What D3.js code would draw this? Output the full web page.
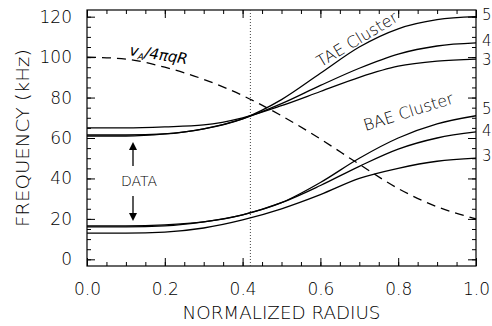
<!DOCTYPE html>
<html>
<head>
<script src="https://d3js.org/d3.v7.min.js"></script>
<style>
  body { margin: 0; background: #fff; }
  text { font-family: "DejaVu Sans", sans-serif; fill: #000; }
  .tick text { font-size: 17px; font-weight: 300; }
  .curve { fill: none; stroke: #000; stroke-width: 1.3px; }
</style>
</head>
<body>
<script>
// radius samples
var radius = [0, 0.1, 0.2, 0.3, 0.4, 0.5, 0.6, 0.7, 0.8, 0.9, 1.0];

// TAE cluster, n = 5, 4, 3
var tae5 = [61, 61, 62, 64.5, 69.5, 79, 92, 105, 114, 118.5, 120];
var tae4 = [61.5, 61.5, 62, 64.5, 69.5, 77, 86, 94.5, 101.5, 105.5, 107];
var tae3 = [65, 65, 65.5, 66.5, 70, 76, 83, 90, 95.5, 98, 99];

// BAE cluster, n = 5, 4, 3
var bae5 = [16.5, 16.5, 17, 18.5, 22, 28, 38, 50, 60, 67, 71];
var bae4 = [16, 16, 16.5, 18.5, 22, 28, 36.5, 46, 54.5, 60, 63];
var bae3 = [13, 13, 13.5, 15.5, 19.5, 25, 32, 40, 45, 48.5, 50];

// v_A / 4 pi q R
var alfven = [100, 99, 95, 89, 81, 71, 59.5, 47, 35, 26, 20];

var modeLabels = ["5", "4", "3"];
var xTicks = [0, 0.2, 0.4, 0.6, 0.8, 1.0];
var yTicks = [0, 20, 40, 60, 80, 100, 120];
var dataRadius = 0.42;

var width = 492, height = 326;
var plotL = 87, plotR = 476, plotT = 10, plotB = 266;

var svg = d3.select("body").append("svg")
    .attr("width", width)
    .attr("height", height);

var x = d3.scaleLinear().domain([0, 1]).range([plotL, plotR]);
var y = d3.scaleLinear().domain([-3.3, 123.3]).range([plotB, plotT]);

var xMinor = d3.range(0, 1.0001, 0.05);
var yMinor = d3.range(0, 121, 5);

// axes, ticks pointing inward
svg.append("g").attr("transform", "translate(0," + plotB + ")")
    .call(d3.axisBottom(x).tickValues(xMinor).tickSize(-4).tickFormat(""));
svg.append("g").attr("transform", "translate(0," + plotB + ")")
    .call(d3.axisBottom(x).tickValues(xTicks).tickSize(-8).tickPadding(17).tickFormat(d3.format(".1f")));
svg.append("g").attr("transform", "translate(0," + plotT + ")")
    .call(d3.axisTop(x).tickValues(xMinor).tickSize(-4).tickFormat(""));
svg.append("g").attr("transform", "translate(0," + plotT + ")")
    .call(d3.axisTop(x).tickValues(xTicks).tickSize(-8).tickFormat(""));

svg.append("g").attr("transform", "translate(" + plotL + ",0)")
    .call(d3.axisLeft(y).tickValues(yMinor).tickSize(-4).tickFormat(""));
svg.append("g").attr("transform", "translate(" + plotL + ",0)")
    .call(d3.axisLeft(y).tickValues(yTicks).tickSize(-8).tickPadding(15));
svg.append("g").attr("transform", "translate(" + plotR + ",0)")
    .call(d3.axisRight(y).tickValues(yMinor).tickSize(-4).tickFormat(""));
svg.append("g").attr("transform", "translate(" + plotR + ",0)")
    .call(d3.axisRight(y).tickValues(yTicks).tickSize(-8).tickFormat(""));

svg.selectAll(".domain").remove();
svg.selectAll(".tick line").attr("stroke", "#000");
svg.selectAll(".tick text").attr("fill", "#000");

svg.append("rect")
    .attr("x", plotL).attr("y", plotT)
    .attr("width", plotR - plotL).attr("height", plotB - plotT)
    .attr("fill", "none").attr("stroke", "#000").attr("stroke-width", 1.2);

// vertical dotted line at data radius
svg.append("line")
    .attr("x1", x(dataRadius)).attr("x2", x(dataRadius))
    .attr("y1", plotT).attr("y2", plotB)
    .attr("stroke", "#444").attr("stroke-width", 1)
    .attr("stroke-dasharray", "1,2");

var line = d3.line()
    .x(function(d, i) { return x(radius[i]); })
    .y(function(d) { return y(d); })
    .curve(d3.curveMonotoneX);

[tae5, tae4, tae3, bae5, bae4, bae3].forEach(function(s) {
  svg.append("path").attr("class", "curve").attr("d", line(s));
});

svg.append("path").attr("class", "curve")
    .attr("stroke-dasharray", "9,6")
    .attr("d", line(alfven));

// mode number labels at right, nudged apart so they do not collide
var nudge = [[-2, -2, 1], [-7, -1, -2]];
[[tae5, tae4, tae3], [bae5, bae4, bae3]].forEach(function(group, g) {
  group.forEach(function(s, i) {
    svg.append("text")
        .attr("x", 482)
        .attr("y", y(s[s.length - 1]) + nudge[g][i])
        .attr("dy", "0.35em")
        .style("font-size", "15px")
        .style("font-weight", 300)
        .text(modeLabels[i]);
  });
});

// annotations
var va = svg.append("text")
    .attr("transform", "translate(129,55) rotate(9)")
    .style("font-size", "15px")
    .style("font-style", "italic")
    .style("font-weight", 300);
va.append("tspan").text("v");
va.append("tspan").attr("dy", 3).style("font-size", "9px").text("A");
va.append("tspan").attr("dy", -3).text("/4\u03c0qR");

svg.append("text")
    .attr("transform", "translate(360,44) rotate(-31)")
    .attr("text-anchor", "middle")
    .style("font-size", "16px")
    .style("font-weight", 300)
    .text("TAE Cluster");

svg.append("text")
    .attr("transform", "translate(410,117) rotate(-17.5)")
    .attr("text-anchor", "middle")
    .style("font-size", "16px")
    .style("font-weight", 300)
    .text("BAE Cluster");

svg.append("text")
    .attr("x", 139).attr("y", 186)
    .attr("text-anchor", "middle")
    .style("font-size", "14px")
    .style("font-weight", 300)
    .text("DATA");

var ax = 133;
function arrow(ya, yb) {
  var dir = yb > ya ? 1 : -1;
  svg.append("line")
      .attr("x1", ax).attr("x2", ax)
      .attr("y1", ya).attr("y2", yb - dir * 6)
      .attr("stroke", "#000").attr("stroke-width", 1.3);
  svg.append("path")
      .attr("d", "M" + ax + "," + yb + "L" + (ax - 4) + "," + (yb - dir * 8) + "L" + (ax + 4) + "," + (yb - dir * 8) + "Z")
      .attr("fill", "#000");
}
arrow(166, 142);
arrow(196, 221);

// axis titles
svg.append("text")
    .attr("x", (plotL + plotR) / 2).attr("y", 319)
    .attr("text-anchor", "middle")
    .attr("textLength", 198).attr("lengthAdjust", "spacingAndGlyphs")
    .style("font-size", "17px")
    .style("font-weight", 300)
    .text("NORMALIZED RADIUS");

svg.append("text")
    .attr("transform", "translate(29," + ((plotT + plotB) / 2) + ") rotate(-90)")
    .attr("text-anchor", "middle")
    .attr("textLength", 178).attr("lengthAdjust", "spacingAndGlyphs")
    .style("font-size", "17px")
    .style("font-weight", 300)
    .text("FREQUENCY (kHz)");
</script>
</body>
</html>
